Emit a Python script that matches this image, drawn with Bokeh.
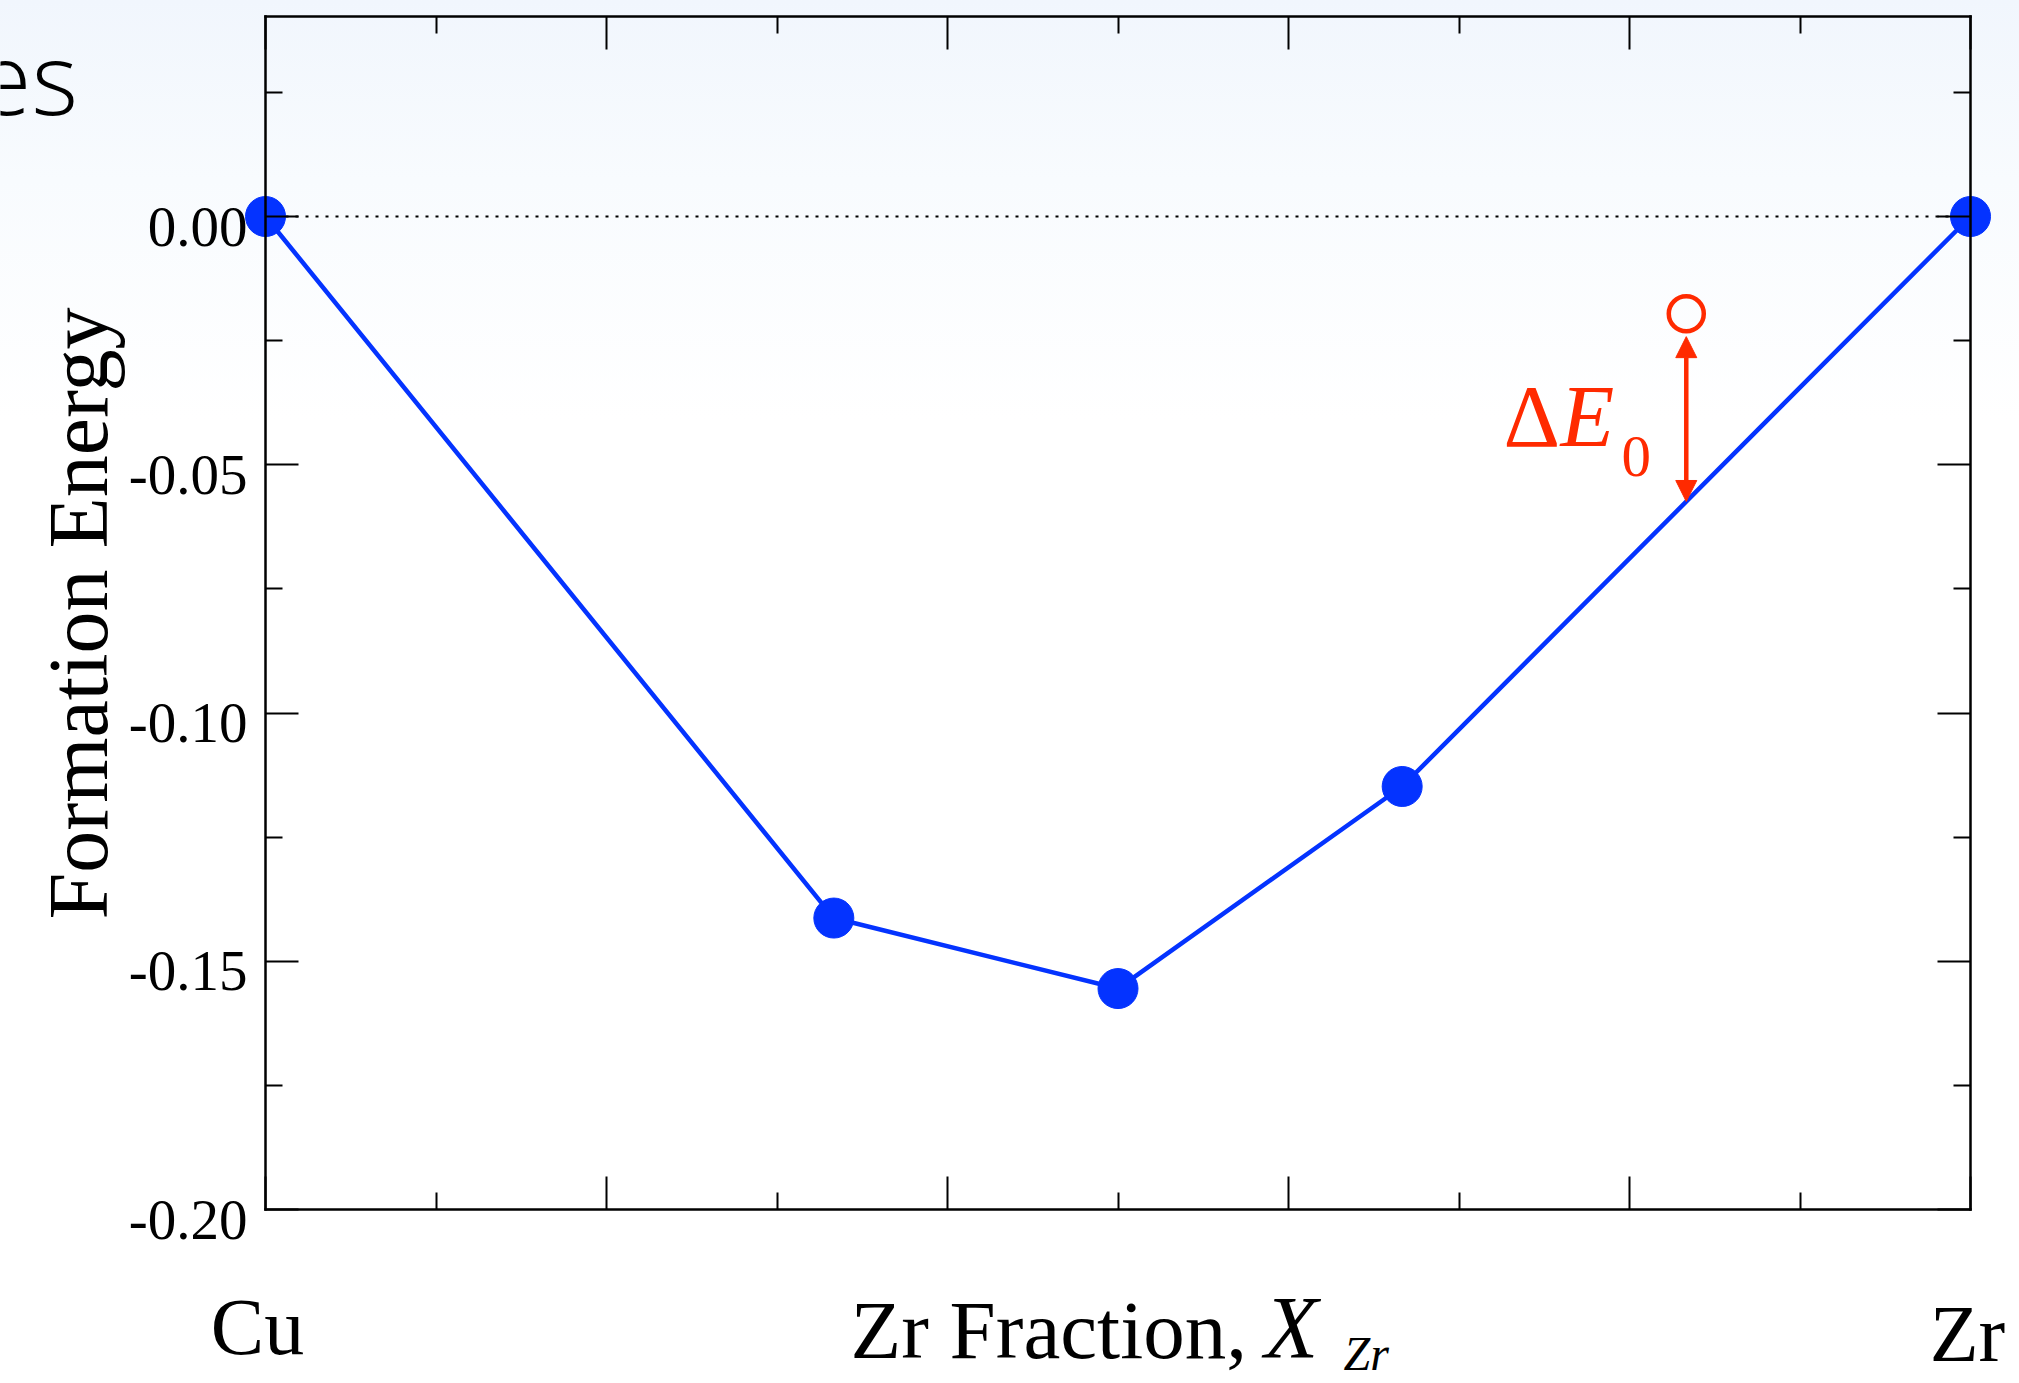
import math
from bokeh.plotting import figure
from bokeh.models import (Range1d, FixedTicker, LinearAxis, Label, LabelSet,
                          ColumnDataSource, Arrow, NormalHead)
from bokeh.core.properties import value
from bokeh.embed import file_html
from bokeh.resources import INLINE

# ---------------- data ----------------
x_frac = [0.0, 1 / 3, 0.5, 2 / 3, 1.0]          # Zr fraction of the ground states
energy = [0.0, -0.1413, -0.1555, -0.1148, 0.0]  # formation energy
meta_x = [0.8333]          # metastable structure (open red circle)
meta_e = [-0.0196]
arrow_top = [-0.0242]      # ΔE0 arrow, upper end (just below the open circle)
arrow_bottom = [-0.0574]   # ΔE0 arrow, lower end (on the hull)
zero_x = [0.0, 1.0]        # dotted zero-energy reference line
zero_y = [0.0, 0.0]

y_ticks = [-0.20, -0.15, -0.10, -0.05, 0.00]
y_tick_labels = ["-0.20", "-0.15", "-0.10", "-0.05", "0.00"]
y_minor = [-0.175, -0.125, -0.075, -0.025, 0.025]
x_ticks = [0.0, 0.2, 0.4, 0.6, 0.8, 1.0]
x_minor = [0.1, 0.3, 0.5, 0.7, 0.9]
x_bounds = (0.0, 1.0)
y_bounds = (-0.20, 0.0403)
end_labels = ["Cu", "Zr"]

BLUE = "#0433ff"
RED = "#ff2a00"
SERIF = "Liberation Serif"

# ---------------- layout helpers (page px -> data, for text placement) ----------------
W, H = 2019, 1383
FL, FR, F0, FB = 265.0, 1970.0, 216.0, 1209.0   # box left/right, y=0 row, y=-0.2 row
def XD(px):
    return (px - FL) / (FR - FL)
def YD(py):
    return -(py - F0) / (FB - F0) * 0.2

# the frame covers the whole canvas; the plot box is drawn by axes at fixed locations
p = figure(width=W, height=H, output_backend="svg", toolbar_location=None,
           x_range=Range1d(XD(0), XD(W)), y_range=Range1d(YD(H), YD(0)),
           min_border=0)
p.styles = {"background": "linear-gradient(to bottom, #f1f6fd 0px, #f8fbfe 180px, #ffffff 420px)"}
p.background_fill_color = None
p.border_fill_color = None
p.outline_line_color = None
p.grid.visible = False

p.add_layout(LinearAxis(), "right")
p.add_layout(LinearAxis(), "above")

p.xaxis[0].fixed_location = y_bounds[0]
p.xaxis[1].fixed_location = y_bounds[1]
p.yaxis[0].fixed_location = x_bounds[0]
p.yaxis[1].fixed_location = x_bounds[1]

for ax in p.axis:
    ax.major_tick_line_width = 2
    ax.minor_tick_line_width = 2
    ax.major_tick_line_color = "black"
    ax.minor_tick_line_color = "black"
    ax.axis_line_width = 2.5
    ax.axis_line_color = "black"
    ax.axis_line_cap = "square"
    ax.major_label_text_color = None
    ax.major_label_text_font_size = "1px"
    ax.major_label_standoff = 0
    ax.axis_label = None
for ax in p.xaxis:
    ax.ticker = FixedTicker(ticks=x_ticks, minor_ticks=x_minor)
    ax.bounds = x_bounds
    # for axes at a fixed location the "out" side points into the box
    ax.major_tick_in, ax.major_tick_out = 0, 33
    ax.minor_tick_in, ax.minor_tick_out = 0, 17
for ax in p.yaxis:
    ax.ticker = FixedTicker(ticks=y_ticks, minor_ticks=y_minor)
    ax.bounds = y_bounds
    ax.major_tick_in, ax.major_tick_out = 33, 0
    ax.minor_tick_in, ax.minor_tick_out = 17, 0

# zero reference line
p.line(zero_x, zero_y, line_color="black", line_width=2, line_dash="3 7")

# convex hull
p.line(x_frac, energy, line_color=BLUE, line_width=4.5)
p.scatter(x_frac, energy, size=40, color=BLUE)

# metastable point and ΔE0 arrow
p.scatter(meta_x, meta_e, size=35, fill_color=None, line_color=RED, line_width=4.5)
p.add_layout(Arrow(start=NormalHead(size=21, fill_color=RED, line_color=RED, line_width=1),
                   end=NormalHead(size=21, fill_color=RED, line_color=RED, line_width=1),
                   x_start=meta_x[0], y_start=arrow_bottom[0],
                   x_end=meta_x[0], y_end=arrow_top[0],
                   line_color=RED, line_width=4.5))

# y tick labels
ysrc = ColumnDataSource(dict(y=y_ticks, t=y_tick_labels))
p.add_layout(LabelSet(x=x_bounds[0], y="y", text="t", source=ysrc, x_offset=-18, y_offset=-29,
                      text_align="right", text_baseline="alphabetic",
                      text_font=value(SERIF), text_font_size="57px", text_color="black"))

def lab(txt, x, y, size, style="normal", color="black", font=SERIF,
        align="left", angle=0.0, x_offset=0):
    # Label anchors near the middle of the em box; shift so (x, y) is the baseline
    d = round(0.35 * size)
    if angle == 0.0:
        xo, yo = x_offset, d
    else:
        xo, yo = x_offset - d, 0
    p.add_layout(Label(x=x, y=y, text=txt, text_font=font, text_font_size=f"{size}px",
                       text_font_style=style, text_color=color, text_align=align,
                       text_baseline="alphabetic", angle=angle, x_offset=xo, y_offset=yo))

# x end labels
lab(end_labels[0], x_bounds[0], YD(1354), 80, align="center", x_offset=-8)
lab(end_labels[1], x_bounds[1], YD(1361), 80, align="center", x_offset=-3)
# x axis title: Zr Fraction, X_Zr
lab("Zr Fraction,", XD(850), YD(1358), 83)
lab("X", XD(1264), YD(1358), 88, style="italic")
lab("Zr", XD(1343), YD(1370), 48, style="italic")
# y axis title
lab("Formation Energy", XD(107), YD(613), 84, align="center", angle=math.pi / 2)
# ΔE0 annotation
lab("Δ", XD(1503), YD(447), 88, color=RED)
lab("E", XD(1560), YD(447), 88, style="italic", color=RED)
lab("0", XD(1621), YD(477), 59, color=RED)
# slide title fragment
lab("es", XD(-24), YD(110), 100, font="Open Sans")

open("out.html", "w").write(file_html(p, INLINE))
